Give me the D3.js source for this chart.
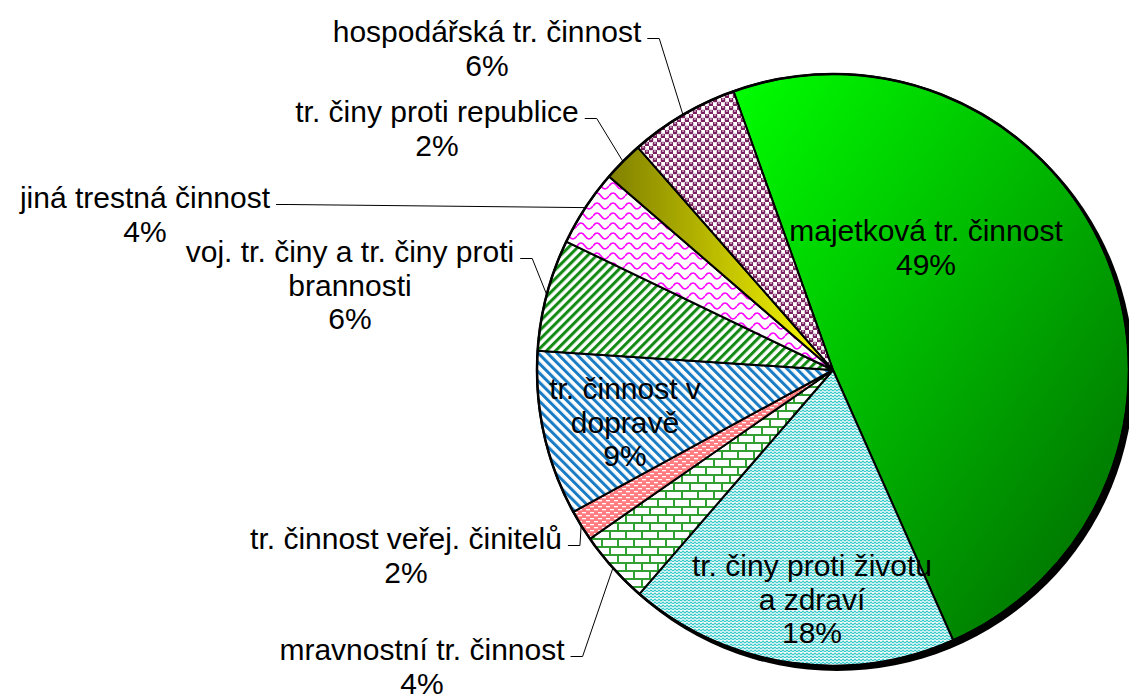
<!DOCTYPE html>
<html>
<head>
<meta charset="utf-8">
<script src="https://cdn.jsdelivr.net/npm/d3@7"></script>
<style>
    body { margin: 0; background: #fff; }
    svg { display: block; }
    text { font-family: "Liberation Sans", Arial, sans-serif; font-size: 30px; fill: #000; }
</style>
</head>
<body>
<div class="chart"></div>
<script>
// data
const categories = [
    'majetková tr. činnost',
    'tr. činy proti životu a zdraví',
    'mravnostní tr. činnost',
    'tr. činnost veřej. činitelů',
    'tr. činnost v dopravě',
    'voj. tr. činy a tr. činy proti brannosti',
    'jiná trestná činnost',
    'tr. činy proti republice',
    'hospodářská tr. činnost'
];
const shares = [48.8, 18.0, 4.0, 1.7, 9.0, 6.1, 4.2, 2.2, 6.0];
const labelLines = [
    ['majetková tr. činnost'],
    ['tr. činy proti životu', 'a zdraví'],
    ['mravnostní tr. činnost'],
    ['tr. činnost veřej. činitelů'],
    ['tr. činnost v', 'dopravě'],
    ['voj. tr. činy a tr. činy proti', 'brannosti'],
    ['jiná trestná činnost'],
    ['tr. činy proti republice'],
    ['hospodářská tr. činnost']
];

// layout
const w = 1129;
const h = 698;
const cx = 833;
const cy = 370;
const r = 296;
const startAngle = -19.65 * Math.PI / 180;
const lineH = 33.5;
// first baseline of each label, and whether it sits outside with a leader line
const labelAt = [[926, 241], [812, 576], [422, 660], [406, 549], [625, 399], [350, 262], [145, 208], [437, 122], [487, 42]];
const outside = [false, false, true, true, false, true, true, true, true];
const fills = ['url(#grad-green)', 'url(#p-zigzag)', 'url(#p-brick)', 'url(#p-dash)', 'url(#p-blue)',
    'url(#p-green)', 'url(#p-wave)', 'url(#grad-olive)', 'url(#p-sphere)'];

const svg = d3.select('.chart')
    .append('svg')
    .attr('width', w)
    .attr('height', h);

const defs = svg.append('defs');

// gradients
const gGreen = defs.append('linearGradient').attr('id', 'grad-green')
    .attr('x1', 0).attr('y1', 0).attr('x2', 1).attr('y2', 1);
gGreen.append('stop').attr('offset', '0%').attr('stop-color', '#00ff00');
gGreen.append('stop').attr('offset', '100%').attr('stop-color', '#006400');
const gOlive = defs.append('linearGradient').attr('id', 'grad-olive')
    .attr('x1', 0).attr('y1', 0).attr('x2', 1).attr('y2', 0);
gOlive.append('stop').attr('offset', '0%').attr('stop-color', '#808000');
gOlive.append('stop').attr('offset', '100%').attr('stop-color', '#ffff00');

function pattern(id, pw, ph, transform) {
    const p = defs.append('pattern').attr('id', id)
        .attr('patternUnits', 'userSpaceOnUse')
        .attr('width', pw).attr('height', ph);
    if (transform) p.attr('patternTransform', transform);
    p.append('rect').attr('width', pw).attr('height', ph).attr('fill', '#fff');
    return p;
}

// purple spheres
const pSphere = pattern('p-sphere', 8, 8);
[[2, 2], [6, 6]].forEach(([x, y]) => {
    pSphere.append('circle').attr('cx', x).attr('cy', y).attr('r', 2.5).attr('fill', '#7a1f5e');
    pSphere.append('rect').attr('x', x - 1).attr('y', y - 1.4).attr('width', 2).attr('height', 0.9).attr('fill', '#fff');
});
[[6, 2], [2, 6]].forEach(([x, y]) => {
    pSphere.append('rect').attr('x', x - 1.5).attr('y', y - 1.5).attr('width', 3).attr('height', 3).attr('fill', '#fff');
});
// magenta waves
pattern('p-wave', 16, 10).append('path')
    .attr('d', 'M0,6 Q4,0 8,6 T16,6')
    .attr('fill', 'none').attr('stroke', '#ff00ff').attr('stroke-width', 1.6);
// wide diagonal stripes
pattern('p-green', 6.4, 6.4, 'rotate(45)').append('rect')
    .attr('width', 3).attr('height', 6.4).attr('fill', '#138a13');
pattern('p-blue', 6.6, 6.6, 'rotate(-45)').append('rect')
    .attr('width', 3).attr('height', 6.6).attr('fill', '#1a7cc4');
// salmon dashes
const pDash = pattern('p-dash', 8, 6);
pDash.select('rect').attr('fill', '#ff7c80');
pDash.append('rect').attr('x', 1).attr('y', 1).attr('width', 4).attr('height', 1.3).attr('fill', '#fff');
pDash.append('rect').attr('x', 5).attr('y', 4).attr('width', 3).attr('height', 1.3).attr('fill', '#fff');
pDash.append('rect').attr('x', 0).attr('y', 4).attr('width', 1).attr('height', 1.3).attr('fill', '#fff');
// green bricks
const pBrick = pattern('p-brick', 16, 16);
pBrick.append('path')
    .attr('d', 'M0,1H16M0,9H16M1,1V9M9,9V17')
    .attr('stroke', '#33a033').attr('stroke-width', 2).attr('fill', 'none');
// cyan zigzag
const pZig = pattern('p-zigzag', 8, 6);
pZig.append('path')
    .attr('d', 'M0,3L2,1L4,3L6,1L8,3M0,6L2,4L4,6L6,4L8,6')
    .attr('fill', 'none').attr('stroke', '#33c9c9').attr('stroke-width', 1.1);

// pie
const pie = d3.pie()
    .sort(null)
    .value(d => d)
    .startAngle(startAngle)
    .endAngle(startAngle + 2 * Math.PI);
const arcs = pie(shares);
const arc = d3.arc().innerRadius(0).outerRadius(r);
const edgeArc = d3.arc().innerRadius(r).outerRadius(r);

const g = svg.append('g').attr('transform', `translate(${cx}, ${cy})`);

// shadow
g.append('circle')
    .attr('cx', 4).attr('cy', 4).attr('r', r + 1)
    .attr('fill', '#000');

g.selectAll('path.slice')
    .data(arcs)
    .enter()
    .append('path')
    .attr('class', 'slice')
    .attr('d', arc)
    .attr('fill', (d, i) => fills[i])
    .attr('stroke', '#000')
    .attr('stroke-width', 2)
    .attr('stroke-linejoin', 'round');

g.append('circle')
    .attr('r', r)
    .attr('fill', 'none')
    .attr('stroke', '#000')
    .attr('stroke-width', 2.5);

// labels
const fmt = d3.format('.0f');
arcs.forEach((d, i) => {
    const [lx, ly] = labelAt[i];
    const lines = labelLines[i].concat(fmt(shares[i]) + '%');
    const t = svg.append('text')
        .attr('text-anchor', 'middle')
        .attr('data-category', categories[i]);
    lines.forEach((line, k) => {
        t.append('tspan').attr('x', lx).attr('y', ly + k * lineH).text(line);
    });
    if (outside[i]) {
        const firstW = t.select('tspan').node().getComputedTextLength();
        const x0 = lx + firstW / 2 + 6;
        const y0 = ly - 3.5;
        const [px, py] = edgeArc.centroid(d);
        svg.append('path')
            .attr('d', `M${x0},${y0}H${x0 + 12}L${cx + px},${cy + py}`)
            .attr('fill', 'none')
            .attr('stroke', '#000')
            .attr('stroke-width', 1);
    }
});
</script>
</body>
</html>
